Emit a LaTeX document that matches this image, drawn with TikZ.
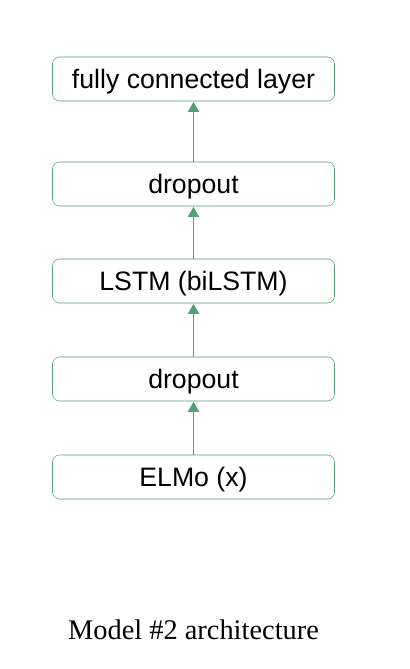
\documentclass[tikz,border=0pt]{standalone}
\usepackage{fontspec}
\setmainfont{Liberation Serif}
\newfontfamily\boxfont{Liberation Sans}
\usetikzlibrary{arrows.meta}
\definecolor{layergreen}{RGB}{82,158,118}

\begin{document}
\begin{tikzpicture}[
	x=0.75pt, y=0.75pt,
	layer/.style={ draw=layergreen, rounded corners=5.25pt, inner sep=0pt, minimum width=211.5pt, minimum height=33pt, text height=14.2pt, text depth=0pt, font=\boxfont\fontsize{20pt}{24pt}\selectfont },
	flow/.style={ draw=layergreen, line width=0.75pt, -{Triangle[width=8.5pt,length=7.5pt]}, shorten >=0.5pt }
]
\useasboundingbox (0,0) rectangle (410,669);

\node at (193.5,192) (elmo) [layer] {ELMo (x)};
\node at (193.5,290) (dropa) [layer] {dropout};
\node at (193.5,388) (lstm) [layer] {LSTM (biLSTM)};
\node at (193.5,485) (dropb) [layer] {dropout};
\node at (193.5,590) (fc) [layer] {fully connected layer};
\draw[flow] (elmo) to (dropa);
\draw[flow] (dropa) to (lstm);
\draw[flow] (lstm) to (dropb);
\draw[flow] (dropb) to (fc);

\node at (193.5,30) (caption) [anchor=base, font=\fontsize{21.3pt}{25pt}\selectfont] {Model \#2 architecture};

\end{tikzpicture}
\end{document}
